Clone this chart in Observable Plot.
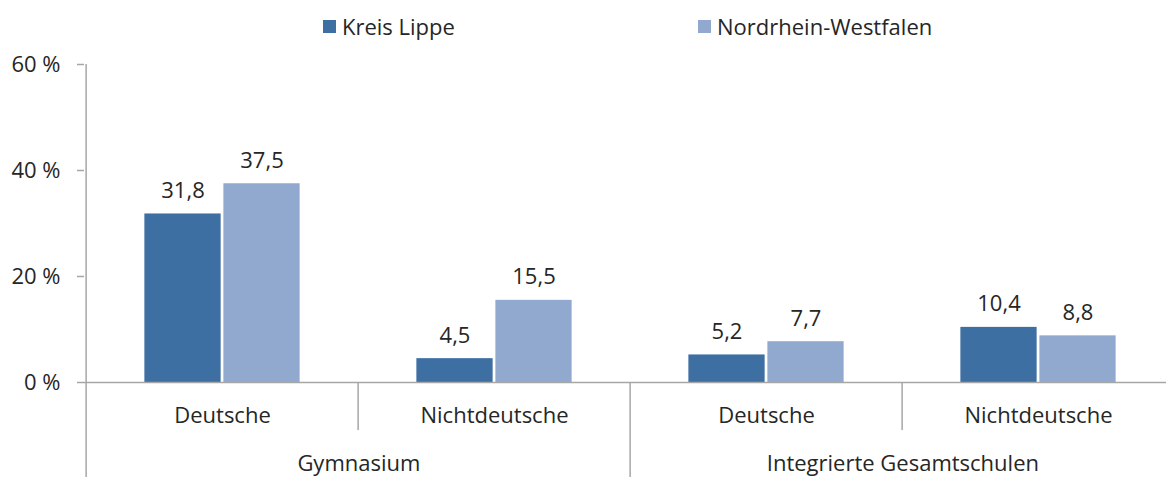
<!DOCTYPE html>
<html>
<head>
<meta charset="utf-8">
<script src="https://cdn.jsdelivr.net/npm/d3@7"></script>
<script src="https://cdn.jsdelivr.net/npm/@observablehq/plot@0.6"></script>
<style>
  html, body { margin: 0; padding: 0; background: #fff; overflow: hidden; }
  #legend { position: relative; width: 1166px; height: 45px; font: 22px "Open Sans", sans-serif; color: #262626; }
  .item { position: absolute; top: 13px; height: 26px; line-height: 26px; display: flex; align-items: center; white-space: nowrap; }
  .sw { width: 13px; height: 13px; margin-right: 6px; }
</style>
</head>
<body>
<div id="legend"></div>
<div id="chart"></div>
<script>
// ---- data ----
const groups = ["Gymnasium", "Gymnasium", "Integrierte Gesamtschulen", "Integrierte Gesamtschulen"];
const categories = ["Deutsche", "Nichtdeutsche", "Deutsche", "Nichtdeutsche"];
const series = ["Kreis Lippe", "Nordrhein-Westfalen"];
const lippe = [31.8, 4.5, 5.2, 10.4];
const nrw = [37.5, 15.5, 7.7, 8.8];
const yTicks = [0, 20, 40, 60];
const colors = ["#3d6fa3", "#91a9cf"];

// ---- layout / style ----
const W = 1166, H = 432;
const ML = 84, MR = -9, MT = 19, MB = 95;
const BAR = 77, GAP = 2;
const gray = "#a6a6a6", ink = "#262626";

const keys = categories.map((c, i) => groups[i] + " | " + c);
const bw = (W - MR - ML) / keys.length;
const outer = (bw - 2 * BAR - GAP) / 2;

const rowsL = keys.map((k, i) => ({key: k, value: lippe[i], label: lippe[i].toFixed(1).replace(".", ",")}));
const rowsN = keys.map((k, i) => ({key: k, value: nrw[i], label: nrw[i].toFixed(1).replace(".", ",")}));
const catRows = keys.map((k, i) => ({key: k, label: categories[i]}));
const groupRows = [{key: keys[0], label: groups[0]}, {key: keys[2], label: groups[2]}];
const seps = [
  {key: keys[1], y2: -9.06},
  {key: keys[2], y2: -20},
  {key: keys[3], y2: -9.06}
];

// legend
const legend = document.getElementById("legend");
const legendX = [323, 698];
series.forEach((s, i) => {
  const it = document.createElement("div");
  it.className = "item";
  it.style.left = legendX[i] + "px";
  const sw = document.createElement("span");
  sw.className = "sw";
  sw.style.background = colors[i];
  const tx = document.createElement("span");
  tx.textContent = s;
  it.appendChild(sw); it.appendChild(tx);
  legend.appendChild(it);
});

const chart = Plot.plot({
  width: W, height: H,
  marginLeft: ML, marginRight: MR, marginTop: MT, marginBottom: MB,
  x: {type: "band", domain: keys, padding: 0, axis: null},
  y: {domain: [0, 60], axis: null},
  style: {fontFamily: "'Open Sans', sans-serif", fontSize: "22px", color: ink, background: "#fff"},
  marks: [
    Plot.barY(rowsL, {x: "key", y: "value", fill: colors[0], insetLeft: outer, insetRight: outer + BAR + GAP}),
    Plot.barY(rowsN, {x: "key", y: "value", fill: colors[1], insetLeft: outer + BAR + GAP, insetRight: outer}),
    Plot.ruleY([0], {stroke: gray, strokeWidth: 1.5}),
    Plot.axisY({ticks: yTicks, tickSize: 7, tickPadding: 17, tickFormat: d => `${d} %`, stroke: gray, strokeWidth: 1.5, fill: ink, fontSize: 22}),
    Plot.ruleX([keys[0]], {x: d => d, y1: 60, y2: -20, dx: -bw / 2, stroke: gray, strokeWidth: 1.5}),
    Plot.ruleX(seps, {x: "key", y1: 0, y2: "y2", dx: -bw / 2, stroke: gray, strokeWidth: 1.5}),
    Plot.text(rowsL, {x: "key", y: "value", text: "label", dx: -(BAR + GAP) / 2, dy: -16, lineAnchor: "bottom", fill: ink, fontSize: 22}),
    Plot.text(rowsN, {x: "key", y: "value", text: "label", dx: (BAR + GAP) / 2, dy: -16, lineAnchor: "bottom", fill: ink, fontSize: 22}),
    Plot.text(catRows, {x: "key", text: "label", frameAnchor: "bottom", dy: 33, lineAnchor: "middle", fill: ink, fontSize: 22}),
    Plot.text(groupRows, {x: "key", text: "label", frameAnchor: "bottom", dx: bw / 2, dy: 81, lineAnchor: "middle", textAnchor: "middle", fill: ink, fontSize: 22})
  ]
});
document.getElementById("chart").appendChild(chart);
</script>
</body>
</html>
